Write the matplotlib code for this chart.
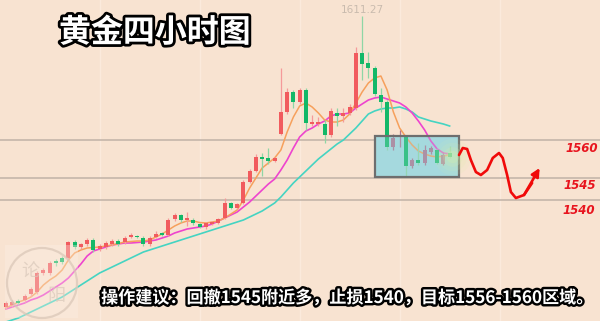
import matplotlib
matplotlib.use("Agg")
import matplotlib.pyplot as plt
import matplotlib.patheffects as pe
from matplotlib.patches import Rectangle, Ellipse

# ---------------- data ----------------
opens = [1493.2, 1494.0, 1495.6, 1496.0, 1498.4, 1499.2, 1506.8, 1506.8, 1511.6, 1512.8,
         1512.8, 1519.2, 1517.2, 1518.4, 1520.0, 1516.4, 1517.2, 1518.4, 1519.6, 1519.2,
         1521.2, 1521.6, 1520.8, 1518.4, 1521.2, 1522.8, 1522.0, 1528.4, 1530.0, 1528.0,
         1528.0, 1526.4, 1525.2, 1526.4, 1526.8, 1528.8, 1534.8, 1532.8, 1534.8, 1543.2,
         1547.6, 1553.2, 1552.8, 1551.6, 1562.4, 1571.2, 1579.2, 1575.2, 1580.0, 1566.4,
         1566.4, 1566.4, 1562.0, 1570.8, 1569.6, 1570.8, 1572.8, 1594.8, 1590.8, 1588.8,
         1578.0, 1575.2, 1557.2, 1561.2, 1561.2, 1549.6, 1552.0, 1550.8, 1555.2, 1556.0,
         1550.4, 1554.8]
closes = [1494.8, 1495.2, 1494.8, 1497.6, 1500.4, 1506.8, 1508.0, 1510.8, 1510.8, 1511.2,
          1519.2, 1517.2, 1518.4, 1520.0, 1516.0, 1517.6, 1518.8, 1519.6, 1518.4, 1520.8,
          1522.0, 1521.2, 1518.4, 1520.8, 1522.4, 1522.0, 1528.0, 1530.0, 1528.0, 1528.8,
          1526.8, 1525.2, 1526.8, 1527.2, 1528.4, 1534.8, 1532.8, 1534.4, 1543.2, 1547.6,
          1553.2, 1552.4, 1551.6, 1552.8, 1571.2, 1579.2, 1575.2, 1580.0, 1566.8, 1567.2,
          1567.2, 1562.0, 1571.6, 1569.6, 1570.8, 1573.2, 1594.8, 1590.4, 1588.8, 1578.4,
          1575.2, 1557.2, 1560.8, 1562.0, 1549.6, 1552.0, 1550.8, 1556.0, 1556.8, 1550.8,
          1554.0, 1553.2]
highs = [1495.6, 1496.0, 1496.4, 1498.4, 1501.2, 1507.6, 1508.8, 1511.6, 1512.4, 1513.6,
         1519.6, 1520.0, 1518.8, 1520.8, 1520.8, 1518.4, 1519.6, 1520.4, 1520.4, 1521.6,
         1522.8, 1522.0, 1521.6, 1521.6, 1523.6, 1523.2, 1528.8, 1530.8, 1530.4, 1531.2,
         1528.8, 1526.8, 1527.2, 1527.6, 1528.8, 1536.8, 1535.2, 1534.8, 1544.0, 1548.4,
         1554.4, 1554.8, 1556.8, 1553.2, 1588.8, 1580.8, 1580.0, 1580.8, 1580.8, 1570.0,
         1569.2, 1568.0, 1572.8, 1572.8, 1572.8, 1574.4, 1597.2, 1609.6, 1595.2, 1589.6,
         1580.8, 1576.0, 1562.4, 1564.0, 1562.0, 1552.8, 1558.8, 1558.0, 1557.6, 1556.4,
         1554.8, 1557.6]
lows = [1492.4, 1493.2, 1494.0, 1495.2, 1497.6, 1498.4, 1506.0, 1506.0, 1509.6, 1510.4,
        1512.0, 1516.4, 1516.4, 1517.6, 1515.2, 1515.6, 1516.4, 1517.6, 1517.6, 1518.4,
        1520.8, 1520.8, 1517.6, 1517.6, 1520.8, 1521.6, 1521.6, 1527.6, 1527.2, 1525.6,
        1526.0, 1524.8, 1524.4, 1526.0, 1526.4, 1528.4, 1532.4, 1532.4, 1534.4, 1542.8,
        1547.2, 1545.6, 1550.4, 1551.2, 1562.0, 1570.4, 1572.8, 1574.4, 1564.0, 1565.6,
        1565.6, 1558.8, 1561.2, 1565.6, 1567.2, 1570.0, 1572.0, 1584.0, 1584.8, 1577.6,
        1571.2, 1556.0, 1556.0, 1557.2, 1545.2, 1548.8, 1550.0, 1550.0, 1554.4, 1550.4,
        1550.0, 1552.8]

ma_fast = [1492.8, 1494.0, 1495.2, 1496.0, 1497.2, 1499.2, 1502.0, 1504.0, 1505.6, 1508.0,
           1512.0, 1514.8, 1516.0, 1516.8, 1517.0, 1517.2, 1517.6, 1518.0, 1518.6, 1519.2,
           1519.4, 1519.6, 1519.6, 1520.0, 1521.2, 1522.4, 1524.0, 1525.6, 1526.8, 1527.6,
           1527.6, 1527.0, 1526.8, 1527.2, 1527.6, 1528.8, 1530.4, 1532.0, 1536.0, 1540.8,
           1544.8, 1548.8, 1550.8, 1552.8, 1556.0, 1563.2, 1569.2, 1573.6, 1574.8, 1573.2,
           1570.8, 1568.0, 1567.2, 1567.2, 1568.0, 1570.4, 1574.8, 1579.2, 1582.8, 1584.8,
           1585.6, 1580.0, 1571.2, 1564.8, 1561.2, 1558.0, 1555.6, 1554.4, 1553.6, 1553.2,
           1553.6, 1554.0]
ma_mid = [1492.4, 1493.2, 1494.0, 1494.8, 1496.0, 1496.8, 1498.0, 1499.6, 1501.2, 1502.8,
          1504.8, 1507.6, 1510.4, 1513.6, 1515.6, 1516.4, 1517.2, 1518.0, 1518.4, 1518.8,
          1518.8, 1519.0, 1519.2, 1519.6, 1520.0, 1520.8, 1521.6, 1522.8, 1523.6, 1524.4,
          1524.8, 1525.2, 1525.6, 1526.4, 1527.6, 1528.8, 1530.0, 1531.2, 1533.2, 1535.2,
          1537.6, 1540.0, 1542.4, 1544.4, 1548.0, 1552.0, 1556.8, 1561.2, 1563.6, 1564.8,
          1566.4, 1567.6, 1569.6, 1570.4, 1570.4, 1570.8, 1572.8, 1574.4, 1576.0, 1576.8,
          1577.2, 1576.4, 1575.6, 1574.8, 1573.2, 1570.8, 1567.6, 1564.0, 1559.6, 1556.4,
          1554.8, 1554.4]
ma_slow = [1487.2, 1488.0, 1488.8, 1490.0, 1491.2, 1492.4, 1493.6, 1494.8, 1496.0, 1497.2,
           1498.8, 1500.4, 1502.0, 1503.6, 1505.2, 1506.8, 1508.0, 1509.2, 1510.4, 1511.6,
           1512.8, 1514.0, 1515.2, 1516.0, 1516.8, 1517.6, 1518.4, 1519.2, 1520.0, 1520.8,
           1521.6, 1522.4, 1523.2, 1524.0, 1524.8, 1525.6, 1526.4, 1527.2, 1528.0, 1529.2,
           1530.4, 1531.6, 1533.2, 1534.8, 1537.2, 1540.0, 1542.8, 1545.2, 1547.6, 1550.0,
           1552.4, 1554.4, 1556.4, 1558.4, 1560.0, 1562.4, 1564.8, 1567.6, 1570.4, 1571.6,
           1572.4, 1572.8, 1572.8, 1573.2, 1572.4, 1571.2, 1569.2, 1568.4, 1567.6, 1567.0,
           1566.4, 1565.6]

level_lines = [1560, 1545, 1536]
level_labels = ["1560", "1545", "1540"]
peak_label = "1611.27"
box_x = [59.1, 72.5]
box_y = [1545.2, 1561.6]
forecast_x = [72.5, 73.1, 73.8, 74.4, 75.2, 76.0, 77.0, 77.9, 78.9, 79.5, 80.2, 80.8,
              81.6, 82.9, 84.2, 85.4]
forecast_y = [1554.0, 1556.8, 1556.4, 1552.0, 1547.2, 1546.0, 1548.0, 1552.8, 1554.8,
              1552.8, 1546.0, 1539.2, 1536.8, 1538.0, 1542.8, 1548.8]
title = "黄金四小时图"
advice = "操作建议：回撤1545附近多，止损1540，目标1556-1560区域。"

# ---------------- styles ----------------
BG = "#F8E3D1"
UP, UP_WICK = "#F15B5E", "#F59A9A"
DN, DN_WICK = "#12B868", "#8FD6A5"
UP_IN_BOX = "#B07590"
plt.rcParams["font.family"] = ["Noto Sans CJK SC", "DejaVu Sans"]

W, H = 600, 321
fig = plt.figure(figsize=(W / 100, H / 100), dpi=100, facecolor=BG)
ax = fig.add_axes([0, 0, 1, 1])
ax.set_facecolor(BG)
ax.set_xlim(-0.944, 95.06)
ax.set_ylim(1487.6, 1616)
ax.axis("off")


def fx(px):
    return px / W


def fy(py):
    return 1 - py / H


# faint vertical grid (drawn in the axes, under everything)
for gx in [100, 200, 300, 400, 500]:
    ax.axvline((gx - 5.9) / 6.25, color="#FBEADC", lw=1, zorder=0.2)

# horizontal level lines
for lv in level_lines:
    ax.axhline(lv, color="#C5B6AA", lw=1.2, zorder=1)

# box fill
ax.add_patch(Rectangle((box_x[0], box_y[0]), box_x[1] - box_x[0], box_y[1] - box_y[0],
                       facecolor="#A5D9DE", edgecolor="none", zorder=1.5))

# moving averages
idx = list(range(len(closes)))
ax.plot(idx, ma_slow, color="#45D4C2", lw=1.2, zorder=3)
ax.plot(idx, ma_mid, color="#EE44CE", lw=1.2, zorder=3)
ax.plot(idx, ma_fast, color="#F6A05C", lw=1.1, zorder=3)

# candles
for i in idx:
    o, c, h, l = opens[i], closes[i], highs[i], lows[i]
    up = c >= o
    inbox = box_x[0] <= i <= box_x[1]
    body = UP if up else DN
    wick = UP_WICK if up else DN_WICK
    if inbox and up:
        body = wick = UP_IN_BOX
    ax.vlines(i, l, h, color=wick, lw=0.9, zorder=4)
    ax.bar(i, max(abs(c - o), 0.6), bottom=min(o, c), width=0.66, color=body,
           zorder=4.5, linewidth=0)

# box overlay + edge
ax.add_patch(Rectangle((box_x[0], box_y[0]), box_x[1] - box_x[0], box_y[1] - box_y[0],
                       facecolor="#A5D9DE", alpha=0.28, edgecolor="none", zorder=5))
ax.add_patch(Rectangle((box_x[0], box_y[0]), box_x[1] - box_x[0], box_y[1] - box_y[0],
                       facecolor="none", edgecolor="#6E6E6E", lw=1.6, zorder=6))

# glow at last candle
for s, a in [(700, 0.10), (420, 0.14), (200, 0.2), (80, 0.25)]:
    ax.scatter([len(closes) - 0.5], [closes[-1]], s=s, color="#D9F0A8", alpha=a,
               edgecolors="none", zorder=6.5)

# watermark stamp (translucent, over the chart)
fig.add_artist(Rectangle((fx(5), fy(318)), 73 / W, 73 / H, facecolor="#FBF0E6",
                         alpha=0.35, edgecolor="none", zorder=2))
fig.add_artist(Ellipse((fx(42), fy(283)), 70 / W, 70 / H, fill=False,
                       edgecolor="#D9C6B6", alpha=0.7, lw=1.6, zorder=2))
fig.text(fx(30), fy(272), "论", fontsize=13, color="#D9C8BA", alpha=0.7,
         ha="center", va="center", zorder=2)
fig.text(fx(56), fy(296), "阳", fontsize=13, color="#D9C8BA", alpha=0.7,
         ha="center", va="center", zorder=2)

# forecast path
ax.plot(forecast_x[:-1], forecast_y[:-1], color="#F00A0A", lw=1.9, zorder=7,
        solid_capstyle="round", solid_joinstyle="round")
ax.annotate("", xy=(forecast_x[-1], forecast_y[-1]), xytext=(forecast_x[-3], forecast_y[-3]),
            arrowprops=dict(arrowstyle="-|>", color="#F00A0A", lw=1.9, mutation_scale=12,
                            shrinkA=0, shrinkB=0), zorder=7)

# peak label
pk = highs.index(max(highs))
ax.text(pk, highs[pk] + 2.4, peak_label, ha="center", va="center", fontsize=7.5,
        color="#C9BBAE", family="DejaVu Sans", zorder=8)

# level labels
for lab, (px, py) in zip(level_labels, [(582, 148), (580, 186), (579, 210)]):
    fig.text(fx(px), fy(py), lab, ha="center", va="center", fontsize=8.5,
             color="#E8141E", family="DejaVu Sans", style="italic", weight="bold", zorder=8)

fig.text(fx(155), fy(33), title, ha="center", va="center", fontsize=23, weight="heavy",
         color="white", path_effects=[pe.withStroke(linewidth=4, foreground="black")], zorder=9)
fig.text(fx(348), fy(298), advice, ha="center", va="center", fontsize=12.3, weight="heavy",
         color="white", path_effects=[pe.withStroke(linewidth=3.5, foreground="black")], zorder=9)

fig.savefig("out.png", dpi=100, facecolor=BG)
